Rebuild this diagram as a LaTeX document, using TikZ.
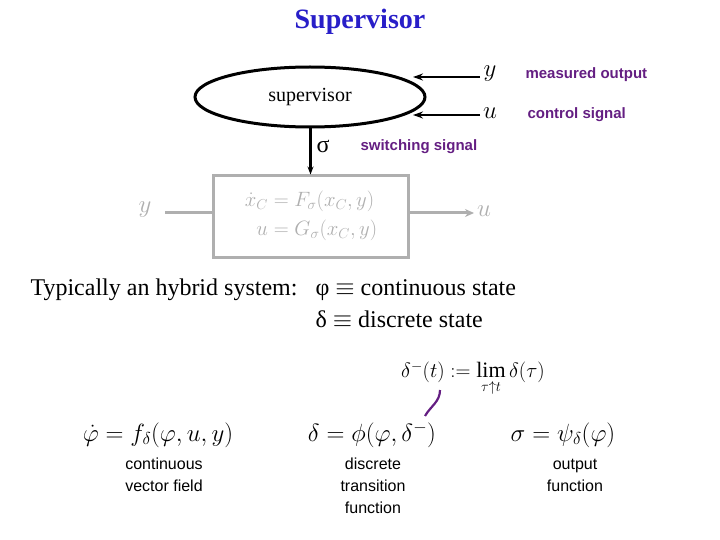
\documentclass[tikz,border=0pt]{standalone}
\usepackage{amsmath}
\usepackage{fontspec}
\setmainfont{Liberation Serif}
\newfontfamily\lsans{Liberation Sans}
\usetikzlibrary{shapes.geometric,arrows.meta}
\definecolor{ttl}{RGB}{40,30,200}
\definecolor{pur}{RGB}{100,30,130}
\definecolor{gry}{RGB}{175,175,175}
\tikzset{lab/.style={text=pur,font=\lsans\bfseries\fontsize{15}{17}\selectfont},
 blab/.style={font=\lsans\fontsize{16}{22}\selectfont,align=center},
 arr/.style={-{Stealth[length=10pt,width=7pt]},line width=2.4pt}}
\begin{document}
\begin{tikzpicture}[x=1pt,y=-1pt]
\useasboundingbox (0,0) rectangle (720,540);
\node[text=ttl,font=\bfseries\fontsize{28}{30}\selectfont] (title) at (360,22) {Supervisor};
\node[ellipse,draw,line width=3pt,minimum width=230,minimum height=60,inner sep=0] (sup) at (310,97) {};
\node[font=\fontsize{20}{22}\selectfont] (supt) at (310,97) {supervisor};
\node[font=\fontsize{27}{29}\selectfont] (yin) at (490,74) {$y$};
\node[font=\fontsize{27}{29}\selectfont] (uin) at (490,113) {$u$};
\coordinate (ya) at (413,77); \coordinate (ua) at (413,115);
\draw[arr] (480,77) coordinate (ys) -- (ya);
\draw[arr] (480,115) coordinate (us) -- (ua);
\node[lab,anchor=west] (mo) at (522,75) {measured output};
\node[lab,anchor=west] (cs) at (524,115) {control signal};
\node[draw=gry,line width=3pt,minimum width=195,minimum height=81,inner sep=0] (box) at (310.5,216.5) {};
\node[text=gry,font=\fontsize{21}{26}\selectfont,align=left] (eqs) at (311,216) {$\begin{aligned}\dot x_C&=F_\sigma(x_C,y)\\ u&=G_\sigma(x_C,y)\end{aligned}$};
\draw[line width=2.4pt,-{Stealth[length=8pt,width=6pt]}] (sup.south -| box.north) -- (box.north);
\node[font=\fontsize{24}{26}\selectfont] (sig) at (323,146) {σ};
\node[lab,anchor=west] (ss) at (357,147) {switching signal};
\node[text=gry,font=\fontsize{25}{27}\selectfont] (yl) at (145,210) {$y$};
\node[text=gry,font=\fontsize{25}{27}\selectfont] (ul) at (484,211) {$u$};
\draw[gry,line width=3pt] (165,213) coordinate (yle) -- (yle -| box.west);
\draw[gry,line width=3pt,-{Stealth[length=9pt,width=8pt]}] (box.east |- 0,213) coordinate (bo) -- (474,213);
\node[anchor=west,font=\fontsize{24}{26}\selectfont] (typ) at (27,290) {Typically an hybrid system:};
\node[anchor=west,font=\fontsize{24}{26}\selectfont] (phi) at (312,290) {φ $\equiv$ continuous state};
\node[anchor=west,font=\fontsize{24}{26}\selectfont] (del) at (312,319) {δ $\equiv$ discrete state};
\node[font=\fontsize{22}{24}\selectfont] (lim) at (473,379) {$\delta^-(t) := \lim\limits_{\tau\uparrow t}\delta(\tau)$};
\node[font=\fontsize{24}{26}\selectfont] (f1) at (158,435) {$\dot\varphi=f_\delta(\varphi,u,y)$};
\node[font=\fontsize{24}{26}\selectfont] (f2) at (372,435) {$\delta=\phi(\varphi,\delta^-)$};
\node[font=\fontsize{24}{26}\selectfont] (f3) at (563,435) {$\sigma=\psi_\delta(\varphi)$};
\draw[pur,line width=2.2pt] (440,390) to[out=-90,in=60] (425,416);
\node[blab] (l1) at (164,475) {continuous\\vector field};
\node[blab] (l2) at (373,486) {discrete\\transition\\function};
\node[blab] (l3) at (575,475) {output\\function};
\end{tikzpicture}
\end{document}
